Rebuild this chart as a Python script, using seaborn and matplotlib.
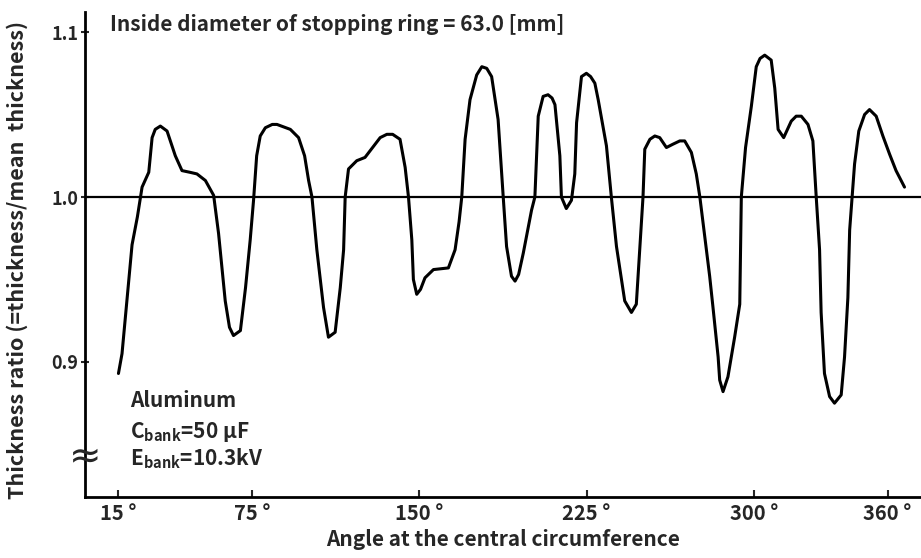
import numpy as np
import pandas as pd
import matplotlib
matplotlib.use("Agg")
import matplotlib.pyplot as plt
import matplotlib.transforms as mtransforms
import seaborn as sns

# angle along the central circumference [deg] and thickness ratio
angle = [15, 16.6, 19, 21.1, 23.5, 25.6, 28.6, 30.1, 31.5, 33.8, 36.8, 40.5, 43.5, 47, 50.2,
         54, 57.7, 59.9, 62.9, 64.8, 66.6, 69.7, 72, 74.1, 75.6, 77, 78.6, 80.9, 84, 86.1,
         92.1, 95.8, 98.5, 100.3, 101.8, 104, 107, 109.2, 112.2, 114.5, 116, 116.7, 118.2,
         121.9, 125.6, 129, 132.4, 135.4, 138, 141.3, 143.6, 145.1, 146.6, 147.3, 148.8,
         150.5, 152.5, 156.3, 163, 166, 167.8, 169, 170.5, 172.7, 175.7, 178, 180.2, 182.4,
         185.3, 186.9, 187.6, 189.1, 191.3, 192.9, 194.5, 196.6, 200.3, 201.8, 203.3, 205.5,
         207.7, 209.5, 210.8, 213, 213.7, 215.9, 218.2, 219.7, 220.5, 222.7, 224.9, 226.8,
         228.7, 230.2, 233.9, 236.1, 238.4, 242.1, 245.1, 247.3, 248.9, 250.3, 251.1, 253.4,
         255.6, 257.8, 260.8, 263.7, 266.8, 269, 272, 274.2, 275.8, 278, 280.2, 281.7, 284,
         284.7, 286.2, 288.4, 291.4, 293.7, 294.1, 294.4, 296.3, 298.9, 301.1, 302.8, 304.9,
         307.8, 309.4, 310.9, 313.4, 316.8, 319, 321.3, 324.3, 326.5, 328, 329.5, 330.2,
         331.7, 334, 336.2, 339.2, 340.7, 342.2, 343, 344.1, 345.2, 347.1, 349.7, 351.9,
         354.9, 357.9, 360.9, 363.8, 367.6]
ratio = [0.893, 0.905, 0.940, 0.971, 0.988, 1.006, 1.015, 1.036, 1.041, 1.043, 1.040, 1.025,
         1.016, 1.015, 1.014, 1.010, 1.001, 0.978, 0.937, 0.921, 0.916, 0.919, 0.945, 0.974,
         0.998, 1.025, 1.037, 1.042, 1.044, 1.044, 1.041, 1.036, 1.025, 1.010, 1.000, 0.968,
         0.933, 0.915, 0.918, 0.945, 0.968, 1.000, 1.017, 1.022, 1.024, 1.030, 1.036, 1.038,
         1.038, 1.035, 1.018, 1.000, 0.974, 0.950, 0.941, 0.944, 0.951, 0.956, 0.957, 0.968,
         0.985, 1.000, 1.035, 1.059, 1.074, 1.079, 1.078, 1.073, 1.047, 1.014, 1.000, 0.970,
         0.952, 0.949, 0.953, 0.966, 0.992, 1.000, 1.049, 1.061, 1.062, 1.060, 1.056, 1.025,
         1.000, 0.993, 0.998, 1.014, 1.045, 1.073, 1.075, 1.073, 1.069, 1.059, 1.031, 1.000,
         0.970, 0.937, 0.930, 0.935, 0.970, 1.000, 1.029, 1.035, 1.037, 1.036, 1.030, 1.032,
         1.034, 1.034, 1.027, 1.014, 1.000, 0.976, 0.952, 0.933, 0.903, 0.889, 0.882, 0.891,
         0.915, 0.935, 0.970, 1.000, 1.030, 1.055, 1.079, 1.084, 1.086, 1.083, 1.066, 1.041,
         1.036, 1.046, 1.049, 1.049, 1.044, 1.034, 1.000, 0.968, 0.930, 0.893, 0.879, 0.875,
         0.880, 0.903, 0.939, 0.980, 1.000, 1.020, 1.040, 1.050, 1.053, 1.049, 1.037, 1.026,
         1.016, 1.006]

x_ticks = [15, 75, 150, 225, 300, 360]
y_ticks = [0.9, 1.0, 1.1]
y_tick_labels = ["0.9", "1.0", "1.1"]

df = pd.DataFrame({"angle": angle, "ratio": ratio})

sns.set_style("ticks")
plt.rcParams["font.family"] = ["Noto Sans CJK JP", "DejaVu Sans"]
plt.rcParams["font.weight"] = "bold"

fig = plt.figure(figsize=(9.21, 5.58), dpi=100)
ax = fig.add_axes([0.0923, 0.109, 0.9077, 0.869])

ax.axhline(1.0, color="black", lw=1.6, zorder=1)
sns.lineplot(data=df, x="angle", y="ratio", sort=False, color="black", lw=2.2, ax=ax, zorder=2)

ax.set_xlim(0, 375)
ax.set_ylim(0.818, 1.112)
sns.despine(ax=ax)
for s in ("left", "bottom"):
    ax.spines[s].set_linewidth(2.0)
    ax.spines[s].set_color("black")

ax.set_xticks(x_ticks)
ax.set_xticklabels([f"{v} °" for v in x_ticks], fontsize=14.5)
offset = mtransforms.ScaledTranslation(9 / 100, 0, fig.dpi_scale_trans)
for lab in ax.get_xticklabels():
    lab.set_transform(lab.get_transform() + offset)
ax.tick_params(axis="x", direction="in", length=5, width=1.5, pad=4)

ax.set_yticks(y_ticks)
ax.set_yticklabels(y_tick_labels, fontsize=13)
ax.tick_params(axis="y", direction="inout", length=6, width=1.5, pad=2)

ax.set_xlabel("Angle at the central circumference", fontsize=15, fontweight="bold", labelpad=4)
ax.set_ylabel("Thickness ratio (=thickness/mean  thickness)", fontsize=15.5, fontweight="bold")
ax.yaxis.set_label_coords(-0.068, 0.49)

ax.text(0.030, 0.975, "Inside diameter of stopping ring = 63.0 [mm]", transform=ax.transAxes,
        fontsize=15, fontweight="bold", va="center", ha="left")

ax.text(0.054, 0.20, "Aluminum", transform=ax.transAxes, fontsize=15, fontweight="bold",
        va="center")
ax.text(0.054, 0.134, r"C$_\mathregular{bank}$=50 μF", transform=ax.transAxes, fontsize=15,
        fontweight="bold", va="center")
ax.text(0.054, 0.08, r"E$_\mathregular{bank}$=10.3kV", transform=ax.transAxes, fontsize=15,
        fontweight="bold", va="center")

# axis break mark
ax.text(0.0, 0.085, "≈", transform=ax.transAxes, fontsize=28, ha="center", va="center",
        fontweight="normal", family=["DejaVu Sans"])

fig.savefig("out.png", dpi=100)
